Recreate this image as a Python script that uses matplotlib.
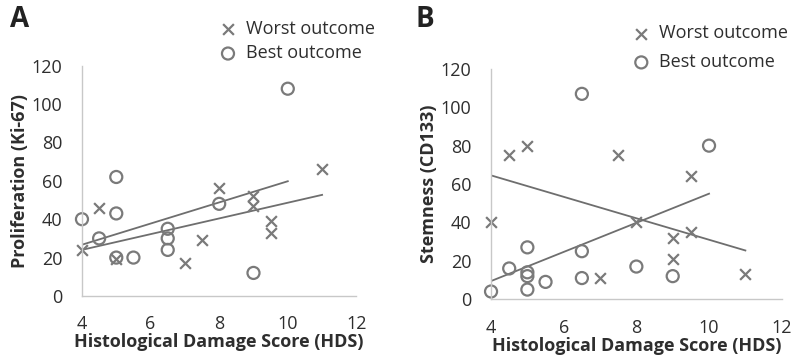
import numpy as np
import matplotlib.pyplot as plt

plt.rcParams['font.family'] = ['Open Sans', 'DejaVu Sans']

# --- Panel A: Proliferation (Ki-67) ---
a_worst_x = [4, 4.5, 5, 7, 7.5, 8, 9, 9, 9.5, 9.5, 11]
a_worst_y = [24, 46, 19, 17, 29, 56, 52, 47, 39, 33, 66]
a_best_x = [4, 4.5, 5, 5, 5, 5.5, 6.5, 6.5, 6.5, 8, 9, 10]
a_best_y = [40, 30, 62, 43, 20, 20, 35, 30, 24, 48, 12, 108]

# --- Panel B: Stemness (CD133) ---
b_worst_x = [4, 4.5, 5, 7, 7.5, 8, 9, 9, 9.5, 9.5, 11]
b_worst_y = [40, 75, 80, 11, 75, 40, 32, 21, 35, 64, 13]
b_best_x = [4, 4.5, 5, 5, 5, 5, 5.5, 6.5, 6.5, 6.5, 8, 9, 10]
b_best_y = [4, 16, 27, 14, 12, 5, 9, 107, 25, 11, 17, 12, 80]

grey = "#7a7a7a"
line_grey = "#6e6e6e"
text_col = "#2e2e2e"
fs = 13

fig = plt.figure(figsize=(7.92, 3.57), dpi=100)
axA = fig.add_axes([0.1035, 0.171, 0.3465, 0.645])
axB = fig.add_axes([0.620, 0.162, 0.367, 0.645])


def trend(ax, x, y):
    # least-squares trend line over the series' own x range
    x = np.asarray(x, float)
    y = np.asarray(y, float)
    m, c = np.polyfit(x, y, 1)
    xs = np.array([x.min(), x.max()])
    ax.plot(xs, m * xs + c, color=line_grey, linewidth=1.3, zorder=1)


def panel(ax, wx, wy, bx, by, ylabel):
    ax.scatter(wx, wy, marker="x", s=60, color=grey, linewidths=1.6,
               label="Worst outcome", zorder=2, clip_on=False)
    ax.scatter(bx, by, marker="o", s=75, facecolors="none", edgecolors=grey,
               linewidths=1.6, label="Best outcome", zorder=2, clip_on=False)
    trend(ax, wx, wy)
    trend(ax, bx, by)
    ax.set_xlim(4, 12)
    ax.set_ylim(0, 120)
    ax.set_xticks([4, 6, 8, 10, 12])
    ax.set_yticks([0, 20, 40, 60, 80, 100, 120])
    for s in ["top", "right"]:
        ax.spines[s].set_visible(False)
    for s in ["left", "bottom"]:
        ax.spines[s].set_color("#c8c8c8")
        ax.spines[s].set_linewidth(1.0)
    ax.tick_params(length=0, labelsize=fs, colors=text_col)
    ax.tick_params(axis="y", pad=14)
    ax.tick_params(axis="x", pad=14)
    ax.set_xlabel("Histological Damage Score (HDS)", fontsize=fs,
                  fontweight="bold", color=text_col, labelpad=0)
    ax.set_ylabel(ylabel, fontsize=fs, fontweight="bold", color=text_col,
                  labelpad=2)


panel(axA, a_worst_x, a_worst_y, a_best_x, a_best_y, "Proliferation (Ki-67)")
panel(axB, b_worst_x, b_worst_y, b_best_x, b_best_y, "Stemness (CD133)")

axA.legend(loc="upper left", bbox_to_anchor=(0.44, 1.23), frameon=False,
           fontsize=fs, handletextpad=0.0, labelspacing=0.35, borderaxespad=0,
           labelcolor=text_col)
axB.legend(loc="upper left", bbox_to_anchor=(0.43, 1.225), frameon=False,
           fontsize=fs, handletextpad=0.0, labelspacing=0.6, borderaxespad=0,
           labelcolor=text_col)

fig.text(0.012, 0.925, "A", fontsize=20, fontweight="bold", color="#222222")
fig.text(0.525, 0.925, "B", fontsize=20, fontweight="bold", color="#222222")

fig.savefig("out.png", dpi=100)
